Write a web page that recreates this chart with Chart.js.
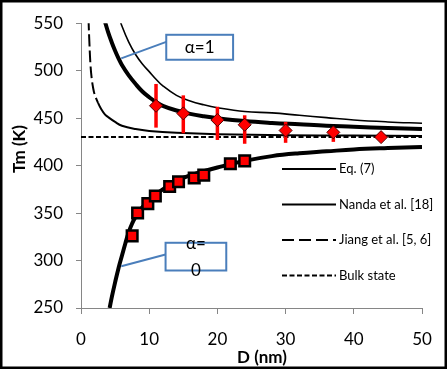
<!DOCTYPE html>
<html>
  <head>
    <title>Tm vs D</title>
    <style>
      body { margin: 0; background: #fff; }
    </style>
  </head>
  <body>
    <canvas id="myChart" width="447" height="369"></canvas>

    <script src="https://cdn.jsdelivr.net/npm/chart.js"></script>
    <script>

    // Eq. (7), alpha = 1 (upper thick curve)
    const eq1_d = [3.5, 4, 4.5, 5, 5.5, 6, 7, 8, 9, 10, 11, 12, 14, 16, 18, 20, 24, 28, 32, 36, 40, 45, 50];
    const eq1_t = [552, 540, 530, 521, 513, 506, 495, 486, 478, 472, 467, 463, 458, 454.5, 452, 450, 447, 445, 443.5, 442, 441, 439.5, 438.5];

    // Eq. (7), alpha = 0 (lower thick curve)
    const eq0_d = [4.2, 4.5, 5, 5.5, 6, 6.5, 7, 7.5, 8, 9, 10, 11, 12, 13, 15, 17, 20, 24, 28, 32, 36, 40, 45, 50];
    const eq0_t = [250, 261, 277, 292, 305, 318, 330, 339, 346, 356, 364, 370, 375, 380, 387, 392, 398, 405, 410, 413, 415, 417, 418.5, 419.7];

    // Nanda et al. [18]
    const nanda_d = [5.5, 6, 7, 8, 9, 10, 11, 12, 14, 16, 18, 20, 24, 28, 32, 36, 40, 45, 50];
    const nanda_t = [558, 547, 530, 517, 507, 499, 491, 484, 474, 468, 464, 461, 457, 455.5, 453, 450.5, 448, 446, 444.6];

    // Jiang et al. [5, 6]
    const jiang_d = [1.1, 1.2, 1.4, 1.6, 1.8, 2, 2.5, 3, 3.5, 4, 5, 6, 8, 10, 14, 20, 30, 40, 50];
    const jiang_t = [555, 535, 505, 490, 481, 475, 466, 459, 454, 451, 446, 442, 438.5, 436.5, 434.5, 433, 432, 431.6, 431.3];

    // bulk state
    const bulk_d = [0, 50];
    const bulk_t = [430, 430];

    // measured points, diamonds with error bars
    const dia_d = [11, 15, 20, 24, 30, 37, 44];
    const dia_t = [463, 455, 448, 443, 437, 435, 430];
    const dia_err_up = [23, 19, 14, 10, 9, 4, 0];
    const dia_err_dn = [23, 21, 21, 20, 13, 10, 0];

    // measured points, squares
    const sq_d = [7.5, 8.3, 9.8, 10.9, 13.0, 14.3, 16.6, 18.0, 21.9, 24.0];
    const sq_t = [326, 350, 360, 368, 378, 383, 387, 390, 402, 405];

    // axes
    const x_ticks = [0, 10, 20, 30, 40, 50];
    const y_ticks = [250, 300, 350, 400, 450, 500, 550];
    const x_title = 'D (nm)';
    const y_title = 'Tm (K)';
    const legend_labels = ['Eq. (7)', 'Nanda et al. [18]', 'Jiang et al. [5, 6]', 'Bulk state'];

    function pts(xs, ys) {
      return xs.map((v, i) => ({x: v, y: ys[i]}));
    }

    Chart.defaults.font.family = 'Lato';

    // callout boxes, in data units
    const notes = [
      {lines: ['α=1'], box: [12.5, 537.8, 22.3, 511.5], from: [12.5, 530.3], to: [5.9, 513]},
      {lines: ['α=', '0'], box: [12.4, 318.7, 21.3, 289.5], from: [12.4, 306.4], to: [5.9, 293.9]}
    ];

    const extras = {
      id: 'extras',
      beforeDatasetDraw(chart, args) {
        // error bars go just under the diamonds
        if (args.index !== 0) return;
        const xs = chart.scales.x, ys = chart.scales.y, ctx = chart.ctx;
        ctx.save();
        ctx.strokeStyle = '#ff0000';
        ctx.lineWidth = 3.5;
        for (let i = 0; i < dia_d.length; i++) {
          if (!dia_err_up[i] && !dia_err_dn[i]) continue;
          const px = xs.getPixelForValue(dia_d[i]);
          ctx.beginPath();
          ctx.moveTo(px, ys.getPixelForValue(dia_t[i] + dia_err_up[i]));
          ctx.lineTo(px, ys.getPixelForValue(dia_t[i] - dia_err_dn[i]));
          ctx.stroke();
        }
        ctx.restore();
      },
      afterDraw(chart) {
        const xs = chart.scales.x, ys = chart.scales.y, ctx = chart.ctx;
        ctx.save();

        // callouts
        notes.forEach(n => {
          const x1 = xs.getPixelForValue(n.box[0]), y1 = ys.getPixelForValue(n.box[1]);
          const x2 = xs.getPixelForValue(n.box[2]), y2 = ys.getPixelForValue(n.box[3]);
          ctx.strokeStyle = '#4a7ebb';
          ctx.lineWidth = 2;
          ctx.beginPath();
          ctx.moveTo(xs.getPixelForValue(n.from[0]), ys.getPixelForValue(n.from[1]));
          ctx.lineTo(xs.getPixelForValue(n.to[0]), ys.getPixelForValue(n.to[1]));
          ctx.stroke();
          ctx.fillStyle = '#fff';
          ctx.fillRect(x1, y1, x2 - x1, y2 - y1);
          ctx.strokeRect(x1, y1, x2 - x1, y2 - y1);
          ctx.fillStyle = '#000';
          ctx.font = '17px Lato';
          ctx.textAlign = 'center';
          ctx.textBaseline = 'middle';
          const cy = (y1 + y2) / 2, step = 27;
          n.lines.forEach((t, i) => {
            ctx.fillText(t, (x1 + x2) / 2, cy + (i - (n.lines.length - 1) / 2) * step);
          });
        });

        // axis titles (the x one sits over the tick labels, as in the original)
        ctx.fillStyle = '#000';
        ctx.font = 'bold 17px Lato';
        ctx.textAlign = 'center';
        ctx.textBaseline = 'middle';
        ctx.fillText(x_title, 262, 358);
        ctx.save();
        ctx.translate(20, 149);
        ctx.rotate(-Math.PI / 2);
        ctx.fillText(y_title, 0, 0);
        ctx.restore();

        // legend
        const dashes = [[], [], [12, 5], [5, 2.5]];
        legend_labels.forEach((lab, i) => {
          const y = 169 + i * 35.5;
          ctx.strokeStyle = '#000';
          ctx.lineWidth = 2;
          ctx.setLineDash(dashes[i]);
          ctx.beginPath();
          ctx.moveTo(282, y);
          ctx.lineTo(336, y);
          ctx.stroke();
          ctx.setLineDash([]);
          ctx.fillStyle = '#000';
          ctx.font = '13px Lato';
          ctx.textAlign = 'left';
          ctx.textBaseline = 'middle';
          ctx.fillText(lab, 339, y);
        });

        // outer frame
        ctx.strokeStyle = '#000';
        ctx.lineWidth = 2.5;
        ctx.strokeRect(1.25, 1.25, chart.width - 2.5, chart.height - 2.5);
        ctx.restore();
      }
    };

    const data = {
      datasets: [
        {
          label: 'diamonds',
          data: pts(dia_d, dia_t),
          pointStyle: 'rectRot',
          pointRadius: 6.5,
          backgroundColor: '#ff0000',
          borderColor: '#500000',
          borderWidth: 1
        },
        {
          label: 'squares',
          data: pts(sq_d, sq_t),
          pointStyle: 'rect',
          pointRadius: 7.5,
          backgroundColor: '#ff0000',
          borderColor: '#000',
          borderWidth: 2.5
        },
        {
          label: 'Eq. (7) a=1',
          data: pts(eq1_d, eq1_t),
          showLine: true, pointRadius: 0,
          borderColor: '#000', borderWidth: 4, tension: 0.4
        },
        {
          label: 'Eq. (7) a=0',
          data: pts(eq0_d, eq0_t),
          showLine: true, pointRadius: 0,
          borderColor: '#000', borderWidth: 4, tension: 0.4
        },
        {
          label: 'Nanda et al. [18]',
          data: pts(nanda_d, nanda_t),
          showLine: true, pointRadius: 0,
          borderColor: '#000', borderWidth: 1.6, tension: 0.4
        },
        {
          label: 'Jiang et al. [5, 6]',
          data: pts(jiang_d, jiang_t),
          showLine: true, pointRadius: 0,
          borderColor: '#000', borderWidth: 2, tension: 0.4,
          segment: { borderDash: c => (c.p0.parsed.x < 2.5 ? [12, 4] : undefined) }
        },
        {
          label: 'Bulk state',
          data: pts(bulk_d, bulk_t),
          showLine: true, pointRadius: 0,
          borderColor: '#000', borderWidth: 2, borderDash: [5, 2.5]
        }
      ]
    };

    const chart_config = {
      type: 'scatter',
      data: data,
      options: {
        responsive: false,
        animation: false,
        layout: { padding: { top: 14, right: 25, left: 0, bottom: 0 } },
        plugins: { legend: { display: false }, tooltip: { enabled: false } },
        scales: {
          x: {
            type: 'linear',
            position: 'bottom',
            min: 0, max: 50,
            afterBuildTicks: s => { s.ticks = x_ticks.map(v => ({value: v})); },
            afterFit: s => { s.height = 61; },
            grid: { drawOnChartArea: false, tickLength: 6, tickColor: '#868686' },
            border: { color: '#868686', width: 1 },
            ticks: { color: '#000', font: { size: 17 }, padding: 15, maxRotation: 0 }
          },
          y: {
            min: 250, max: 550,
            afterBuildTicks: s => { s.ticks = y_ticks.map(v => ({value: v})); },
            afterFit: s => { s.width = 81; },
            grid: { drawOnChartArea: false, tickLength: 5, tickColor: '#868686' },
            border: { color: '#868686', width: 1 },
            ticks: { color: '#000', font: { size: 17 }, padding: 13 }
          }
        }
      },
      plugins: [extras]
    };

    new Chart(document.getElementById('myChart'), chart_config);

    </script>
  </body>
</html>
